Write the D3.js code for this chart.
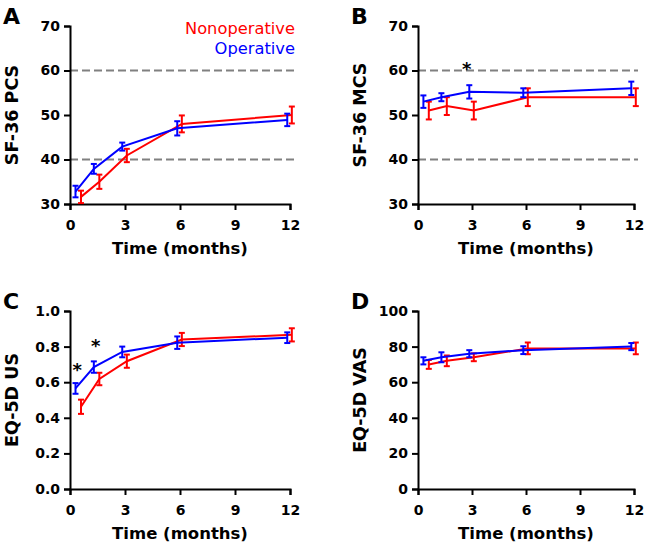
<!DOCTYPE html>
<html>
<head>
<meta charset="utf-8">
<script src="https://cdn.jsdelivr.net/npm/d3@7/dist/d3.min.js"></script>
<style>
  body { margin: 0; background: #fff; }
  text { font-family: "DejaVu Sans", sans-serif; }
</style>
</head>
<body>
<div id="wrapper"></div>
<script>
// Time points (months) -- the two groups are slightly dodged in the figure
const opMonths = [0.3, 1.3, 2.85, 5.85, 11.85]
const nonopMonths = [0.6, 1.6, 3.1, 6.1, 12.1]

// A: SF-36 PCS
const pcsOp = [32.8, 37.9, 42.9, 47.0, 48.9]
const pcsOpErr = [1.3, 1.1, 0.9, 1.6, 1.4]
const pcsNonop = [31.6, 35.0, 40.9, 48.0, 50.0]
const pcsNonopErr = [1.4, 1.6, 1.5, 1.9, 1.9]

// B: SF-36 MCS
const mcsOp = [53.0, 54.0, 55.2, 55.0, 56.0]
const mcsOpErr = [1.4, 0.9, 1.5, 1.0, 1.5]
const mcsNonop = [51.0, 52.0, 51.0, 54.0, 54.0]
const mcsNonopErr = [2.0, 2.0, 2.0, 2.0, 2.0]

// C: EQ-5D US
const eqOp = [0.565, 0.685, 0.77, 0.822, 0.85]
const eqOpErr = [0.03, 0.032, 0.03, 0.035, 0.03]
const eqNonop = [0.462, 0.618, 0.718, 0.84, 0.866]
const eqNonopErr = [0.04, 0.035, 0.037, 0.037, 0.037]

// D: EQ-5D VAS
const vasOp = [72, 74, 76, 78, 80]
const vasOpErr = [2.0, 2.8, 2.0, 2.2, 2.0]
const vasNonop = [70, 72, 74, 79, 79]
const vasNonopErr = [2.5, 3.0, 2.2, 3.3, 3.3]

// axis ticks
const monthTicks = [0, 3, 6, 9, 12]
const sfTicks = [30, 40, 50, 60, 70]
const eqTicks = [0, 0.2, 0.4, 0.6, 0.8, 1.0]
const vasTicks = [0, 20, 40, 60, 80, 100]
const sfRefLines = [40, 60]

// significance markers
const sigB = [{ t: 2.7, v: 61 }]
const sigC = [{ t: 0.4, v: 0.69 }, { t: 1.4, v: 0.82 }]

const red = "#ff0000"
const blue = "#0000ff"

const svg = d3.select("#wrapper")
  .append("svg")
    .attr("width", 646)
    .attr("height", 549)

const plotH = 178

const panels = [
  { letter: "A", x: 70, y: 26, w: 220, label: "SF-36 PCS", domain: [30, 70], ticks: sfTicks, fmt: d3.format("d"),
    op: pcsOp, opErr: pcsOpErr, non: pcsNonop, nonErr: pcsNonopErr, refs: sfRefLines, sig: [], legend: true },
  { letter: "B", x: 418, y: 26, w: 216, label: "SF-36 MCS", domain: [30, 70], ticks: sfTicks, fmt: d3.format("d"),
    op: mcsOp, opErr: mcsOpErr, non: mcsNonop, nonErr: mcsNonopErr, refs: sfRefLines, sig: sigB },
  { letter: "C", x: 70, y: 311, w: 220, label: "EQ-5D US", domain: [0, 1], ticks: eqTicks, fmt: d3.format(".1f"),
    op: eqOp, opErr: eqOpErr, non: eqNonop, nonErr: eqNonopErr, refs: [], sig: sigC },
  { letter: "D", x: 418, y: 311, w: 216, label: "EQ-5D VAS", domain: [0, 100], ticks: vasTicks, fmt: d3.format("d"),
    op: vasOp, opErr: vasOpErr, non: vasNonop, nonErr: vasNonopErr, refs: [], sig: [] },
]

panels.forEach(p => {
  const plotW = p.w
  const g = svg.append("g").attr("transform", `translate(${p.x},${p.y})`)

  const xScale = d3.scaleLinear().domain([0, 12]).range([0, plotW])
  const yScale = d3.scaleLinear().domain(p.domain).range([plotH, 0])

  // dashed reference lines
  g.selectAll(".ref")
    .data(p.refs)
    .join("line")
      .attr("x1", 0)
      .attr("x2", plotW + 4)
      .attr("y1", d => yScale(d))
      .attr("y2", d => yScale(d))
      .attr("stroke", "#808080")
      .attr("stroke-width", 2)
      .attr("stroke-dasharray", "8,4")

  // axes
  const xAxis = g.append("g")
    .attr("transform", `translate(0,${plotH})`)
    .call(d3.axisBottom(xScale).tickValues(monthTicks).tickSizeOuter(0).tickSize(6).tickPadding(12))
  const yAxis = g.append("g")
    .call(d3.axisLeft(yScale).tickValues(p.ticks).tickFormat(p.fmt).tickSizeOuter(0).tickSize(6).tickPadding(4))

  ;[xAxis, yAxis].forEach(a => {
    a.select(".domain").attr("stroke-width", 2)
    a.selectAll(".tick line").attr("stroke-width", 2)
    a.selectAll("text")
      .attr("font-family", "DejaVu Sans")
      .attr("font-weight", "bold")
      .attr("font-size", 14)
      .attr("fill", "#000")
  })
  xAxis.selectAll("text").attr("dy", "0.55em")

  // series: nonoperative first, operative on top
  const series = [
    { t: nonopMonths, v: p.non, e: p.nonErr, color: red },
    { t: opMonths, v: p.op, e: p.opErr, color: blue },
  ]

  series.forEach(s => {
    const pts = s.t.map((t, i) => ({ t: t, v: s.v[i], e: s.e[i] }))
    const line = d3.line()
      .x(d => xScale(d.t))
      .y(d => yScale(d.v))

    g.append("path")
      .datum(pts)
      .attr("d", line)
      .attr("fill", "none")
      .attr("stroke", s.color)
      .attr("stroke-width", 2)

    const bars = g.append("g")
      .attr("stroke", s.color)
      .attr("stroke-width", 2)
    bars.selectAll(".stem")
      .data(pts)
      .join("line")
        .attr("x1", d => xScale(d.t))
        .attr("x2", d => xScale(d.t))
        .attr("y1", d => yScale(d.v - d.e))
        .attr("y2", d => yScale(d.v + d.e))
    bars.selectAll(".capTop")
      .data(pts)
      .join("line")
        .attr("x1", d => xScale(d.t) - 3)
        .attr("x2", d => xScale(d.t) + 3)
        .attr("y1", d => yScale(d.v + d.e))
        .attr("y2", d => yScale(d.v + d.e))
    bars.selectAll(".capBottom")
      .data(pts)
      .join("line")
        .attr("x1", d => xScale(d.t) - 3)
        .attr("x2", d => xScale(d.t) + 3)
        .attr("y1", d => yScale(d.v - d.e))
        .attr("y2", d => yScale(d.v - d.e))
  })

  // significance asterisks
  g.selectAll(".sig")
    .data(p.sig)
    .join("text")
      .attr("x", d => xScale(d.t))
      .attr("y", d => yScale(d.v))
      .attr("dy", "0.52em")
      .attr("text-anchor", "middle")
      .attr("font-weight", "bold")
      .attr("font-size", 18)
      .text("*")

  // axis titles
  g.append("text")
    .attr("x", plotW / 2)
    .attr("y", plotH + 50)
    .attr("text-anchor", "middle")
    .attr("font-weight", "bold")
    .attr("font-size", 16.5)
    .text("Time (months)")

  g.append("text")
    .attr("transform", `translate(-52,${plotH / 2}) rotate(-90)`)
    .attr("text-anchor", "middle")
    .attr("font-weight", "bold")
    .attr("font-size", 17.5)
    .text(p.label)

  // panel letter
  g.append("text")
    .attr("x", -67)
    .attr("y", -2)
    .attr("font-weight", "bold")
    .attr("font-size", 22)
    .text(p.letter)

  if (p.legend) {
    g.append("text")
      .attr("x", 225)
      .attr("y", 8)
      .attr("text-anchor", "end")
      .attr("font-size", 16.3)
      .attr("fill", red)
      .text("Nonoperative")
    g.append("text")
      .attr("x", 225)
      .attr("y", 28)
      .attr("text-anchor", "end")
      .attr("font-size", 16.3)
      .attr("fill", blue)
      .text("Operative")
  }
})
</script>
</body>
</html>
